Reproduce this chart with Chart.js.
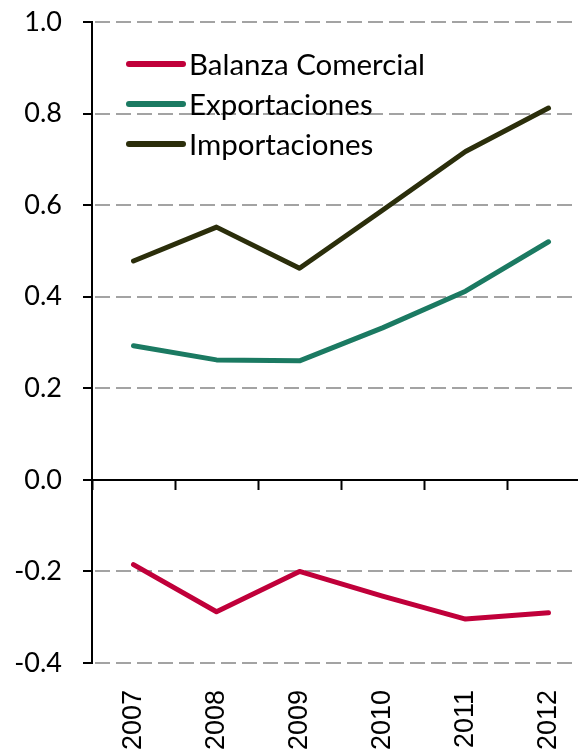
<!DOCTYPE html>
<html>
<head>
<meta charset="utf-8">
<script src="https://cdn.jsdelivr.net/npm/chart.js@4/dist/chart.umd.min.js"></script>
<style>
  html, body { margin: 0; padding: 0; overflow: hidden; background: #fff; }
  canvas { display: block; }
</style>
</head>
<body>
<canvas id="c" width="592" height="750"></canvas>
<script>
const categories = ['2007', '2008', '2009', '2010', '2011', '2012'];
const balanzaComercial = [-0.185, -0.288, -0.200, -0.254, -0.304, -0.290];
const exportaciones = [0.293, 0.262, 0.260, 0.332, 0.412, 0.520];
const importaciones = [0.478, 0.552, 0.462, 0.589, 0.717, 0.812];
const seriesNames = ['Balanza Comercial', 'Exportaciones', 'Importaciones'];
const seriesColors = ['#c0003a', '#1b7a62', '#2b2e0b'];

const legendPlugin = {
  id: 'insideLegend',
  afterDraw(chart) {
    const ctx = chart.ctx;
    const x0 = 129, x1 = 183, tx = 189, y0 = 64, dy = 40;
    chart.data.datasets.forEach((ds, i) => {
      const y = y0 + i * dy;
      ctx.save();
      ctx.strokeStyle = ds.borderColor;
      ctx.lineWidth = 6;
      ctx.lineCap = 'round';
      ctx.beginPath();
      ctx.moveTo(x0, y);
      ctx.lineTo(x1, y);
      ctx.stroke();
      ctx.fillStyle = '#000';
      ctx.font = '29.5px Lato';
      ctx.textBaseline = 'middle';
      ctx.textAlign = 'left';
      ctx.fillText(ds.label, tx, y + 1);
      ctx.restore();
    });
  }
};

const values = [balanzaComercial, exportaciones, importaciones];

new Chart(document.getElementById('c'), {
  type: 'line',
  data: {
    labels: categories,
    datasets: values.map((v, i) => ({
      label: seriesNames[i],
      data: v,
      borderColor: seriesColors[i],
      backgroundColor: seriesColors[i],
      borderWidth: 5,
      pointRadius: 0,
      tension: 0,
      borderCapStyle: 'round',
      borderJoinStyle: 'round',
      xAxisID: 'x',
      yAxisID: 'y'
    }))
  },
  options: {
    responsive: false,
    devicePixelRatio: 1,
    animation: false,
    layout: { padding: { top: 22, right: 2, left: 0, bottom: 0 } },
    plugins: { legend: { display: false }, tooltip: { enabled: false } },
    scales: {
      x: {
        type: 'category',
        axis: 'x',
        position: { y: 0 },
        offset: true,
        grid: {
          display: true,
          offset: true,
          drawOnChartArea: false,
          drawTicks: true,
          tickLength: 9,
          tickColor: '#000',
          tickWidth: 2
        },
        border: { display: true, color: '#000', width: 2 },
        ticks: { display: false },
        afterFit(s) { s.paddingLeft = 0; s.paddingRight = 0; }
      },
      x2: {
        type: 'category',
        axis: 'x',
        labels: categories,
        position: 'bottom',
        offset: true,
        grid: { display: false },
        border: { display: false },
        ticks: {
          autoSkip: false,
          maxRotation: 90,
          minRotation: 90,
          padding: 19,
          color: '#000',
          font: { family: 'Liberation Sans', size: 27 }
        },
        afterFit(s) { s.height = 87; s.paddingLeft = 0; s.paddingRight = 0; }
      },
      y: {
        min: -0.4,
        max: 1.0,
        ticks: {
          stepSize: 0.2,
          padding: 21,
          color: '#000',
          font: { family: 'Lato', size: 27 },
          callback: (v) => Math.abs(v) < 1e-9 ? '0.0' : Number(v).toFixed(1)
        },
        grid: {
          color: (c) => (c.tick && Math.abs(c.tick.value) < 1e-9) ? 'rgba(0,0,0,0)' : '#a3a3a3',
          lineWidth: 2,
          tickLength: 9,
          tickColor: '#000',
          tickWidth: 2,
          tickBorderDash: []
        },
        border: { display: true, color: '#000', width: 2, dash: [15, 6], dashOffset: -2 },
        afterFit(s) { s.width = 92; s.paddingTop = 0; s.paddingBottom = 0; }
      }
    }
  },
  plugins: [legendPlugin]
});
</script>
</body>
</html>
